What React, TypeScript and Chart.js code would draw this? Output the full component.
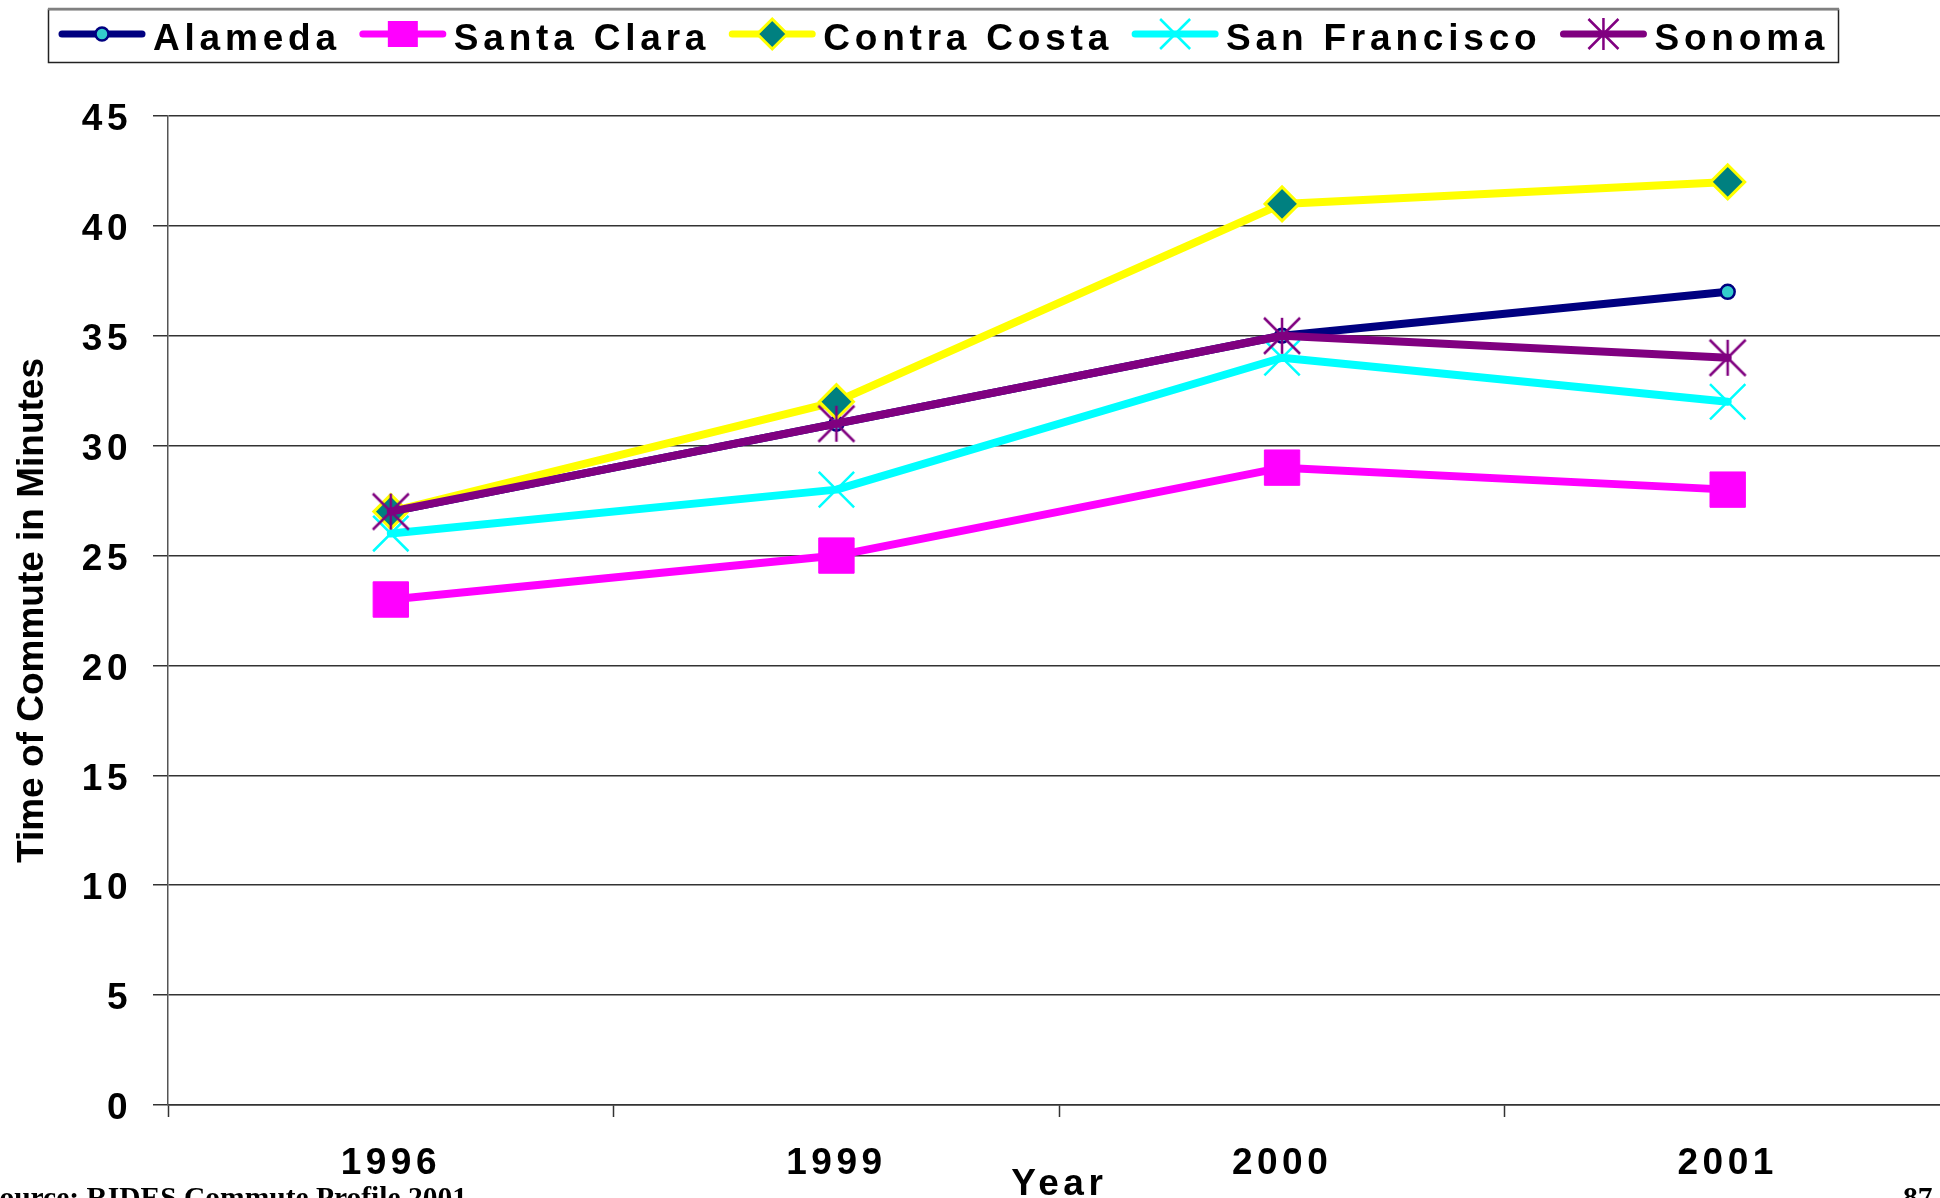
import React, { useEffect, useRef } from 'react';
import { Chart, registerables } from 'chart.js';

Chart.register(...registerables);

// ---- data ----
const years = ['1996', '1999', '2000', '2001'];
const seriesNames = ['Alameda', 'Santa Clara', 'Contra Costa', 'San Francisco', 'Sonoma'];
const alameda = [27, 31, 35, 37];
const santaClara = [23, 25, 29, 28];
const contraCosta = [27, 32, 41, 42];
const sanFrancisco = [26, 28, 34, 32];
const sonoma = [27, 31, 35, 34];
const yTickValues = [0, 5, 10, 15, 20, 25, 30, 35, 40, 45];
const xTitle = 'Year';
const yTitle = 'Time of Commute in Minutes';
const sourceText = 'Source: RIDES Commute Profile 2001';
const pageNumber = '87';

const FONT = '"Liberation Sans", Arial, Helvetica, sans-serif';
const SPACING = '4.5px';

function makeAsterisk(size: number, color: string, lw: number) {
  const c = document.createElement('canvas');
  c.width = size;
  c.height = size;
  const g = c.getContext('2d')!;
  const m = size / 2;
  const h = m - 2;
  g.strokeStyle = color;
  g.lineWidth = lw;
  g.beginPath();
  g.moveTo(m - h, m - h); g.lineTo(m + h, m + h);
  g.moveTo(m + h, m - h); g.lineTo(m - h, m + h);
  g.moveTo(m, m - h); g.lineTo(m, m + h);
  g.stroke();
  return c;
}

function drawLegendMarker(ctx: CanvasRenderingContext2D, kind: string, x: number, y: number, fill: string, stroke: string) {
  ctx.save();
  ctx.lineCap = 'butt';
  if (kind === 'circle') {
    ctx.beginPath();
    ctx.arc(x, y, 6.5, 0, Math.PI * 2);
    ctx.fillStyle = fill; ctx.fill();
    ctx.lineWidth = 2.5; ctx.strokeStyle = stroke; ctx.stroke();
  } else if (kind === 'rect') {
    ctx.fillStyle = fill;
    ctx.fillRect(x - 15, y - 13, 30, 26);
  } else if (kind === 'diamond') {
    ctx.beginPath();
    ctx.moveTo(x, y - 15); ctx.lineTo(x + 15, y); ctx.lineTo(x, y + 15); ctx.lineTo(x - 15, y); ctx.closePath();
    ctx.fillStyle = fill; ctx.fill();
    ctx.lineWidth = 3; ctx.strokeStyle = stroke; ctx.stroke();
  } else if (kind === 'x') {
    ctx.beginPath();
    ctx.moveTo(x - 15, y - 15); ctx.lineTo(x + 15, y + 15);
    ctx.moveTo(x + 15, y - 15); ctx.lineTo(x - 15, y + 15);
    ctx.lineWidth = 2.5; ctx.strokeStyle = stroke; ctx.stroke();
  } else if (kind === 'asterisk') {
    ctx.beginPath();
    ctx.moveTo(x - 15, y - 15); ctx.lineTo(x + 15, y + 15);
    ctx.moveTo(x + 15, y - 15); ctx.lineTo(x - 15, y + 15);
    ctx.moveTo(x, y - 16); ctx.lineTo(x, y + 16);
    ctx.lineWidth = 2.5; ctx.strokeStyle = stroke; ctx.stroke();
  }
  ctx.restore();
}

const spacingPlugin = {
  id: 'letterSpacing',
  beforeLayout(chart: any) { (chart.ctx as any).letterSpacing = SPACING; },
  beforeDraw(chart: any) { (chart.ctx as any).letterSpacing = SPACING; },
};

const extrasPlugin = {
  id: 'extras',
  afterDraw(chart: any) {
    const ctx: CanvasRenderingContext2D = chart.ctx;
    const area = chart.chartArea;
    // y axis title (no letter spacing)
    ctx.save();
    (ctx as any).letterSpacing = '0px';
    ctx.font = `bold 37px ${FONT}`;
    ctx.fillStyle = '#000';
    ctx.translate(43, (area.top + area.bottom) / 2);
    ctx.rotate(-Math.PI / 2);
    ctx.textAlign = 'center';
    ctx.textBaseline = 'alphabetic';
    ctx.fillText(yTitle, 0, 0);
    ctx.restore();

    // legend box
    ctx.save();
    ctx.fillStyle = '#fff';
    ctx.fillRect(48, 9, 1790, 53);
    ctx.strokeStyle = '#222';
    ctx.lineWidth = 1.5;
    ctx.strokeRect(48.5, 9.5, 1790, 53);
    ctx.strokeStyle = '#808080';
    ctx.lineWidth = 2.5;
    ctx.beginPath(); ctx.moveTo(48, 9); ctx.lineTo(1839, 9); ctx.stroke();

    (ctx as any).letterSpacing = '4.8px';
    ctx.font = `bold 37px ${FONT}`;
    let x = 59;
    const cy = 34;
    chart.data.datasets.forEach((ds: any) => {
      ctx.strokeStyle = ds.borderColor;
      ctx.lineWidth = 7;
      ctx.lineCap = 'round';
      ctx.beginPath(); ctx.moveTo(x + 3, cy); ctx.lineTo(x + 83, cy); ctx.stroke();
      drawLegendMarker(ctx, ds.legendMarker, x + 43, cy, ds.pointBackgroundColor, ds.pointBorderColor);
      ctx.fillStyle = '#000';
      ctx.textAlign = 'left';
      ctx.textBaseline = 'alphabetic';
      ctx.fillText(ds.label, x + 94, 50);
      x += 94 + ctx.measureText(ds.label).width + 19;
    });
    ctx.restore();
  },
};

export default function App() {
  const ref = useRef<HTMLCanvasElement>(null);

  useEffect(() => {
    if (!ref.current) return;
    const sonomaMarker = makeAsterisk(40, '#800080', 2.5);
    const seriesValues = [alameda, santaClara, contraCosta, sanFrancisco, sonoma];
    const styles = [
      { line: '#000080', fill: '#33CCCC', border: '#000080', style: 'circle', radius: 7, bw: 2.5, legend: 'circle' },
      { line: '#FF00FF', fill: '#FF00FF', border: '#FF00FF', style: 'rect', radius: 25, bw: 1, legend: 'rect' },
      { line: '#FFFF00', fill: '#008080', border: '#FFFF00', style: 'rectRot', radius: 17, bw: 3, legend: 'diamond' },
      { line: '#00FFFF', fill: '#00FFFF', border: '#00FFFF', style: 'crossRot', radius: 25, bw: 2.5, legend: 'x' },
      { line: '#800080', fill: '#800080', border: '#800080', style: sonomaMarker, radius: 20, bw: 2.5, legend: 'asterisk' },
    ];
    const datasets = seriesNames.map((name, i) => ({
      label: name,
      data: seriesValues[i],
      borderColor: styles[i].line,
      backgroundColor: styles[i].line,
      borderWidth: 8,
      borderCapStyle: 'round',
      borderJoinStyle: 'round',
      tension: 0,
      fill: false,
      pointStyle: styles[i].style,
      pointRadius: styles[i].radius,
      pointBackgroundColor: styles[i].fill,
      pointBorderColor: styles[i].border,
      pointBorderWidth: styles[i].bw,
      order: seriesNames.length - i,
      legendMarker: styles[i].legend,
    }));

    const chart = new Chart(ref.current, {
      type: 'line',
      data: { labels: years, datasets: datasets as any },
      options: {
        animation: false,
        responsive: false,
        devicePixelRatio: 1,
        events: [],
        layout: { padding: { top: 116, left: 0, right: 0, bottom: 0 } },
        plugins: {
          legend: { display: false },
          tooltip: { enabled: false },
          title: { display: false },
        },
        scales: {
          x: {
            type: 'category',
            offset: true,
            grid: {
              display: true,
              offset: true,
              drawOnChartArea: false,
              drawTicks: true,
              tickLength: 12,
              tickColor: '#333',
              tickWidth: 1.5,
            },
            border: { display: true, color: '#333', width: 1.5 },
            ticks: {
              color: '#000',
              font: { family: FONT, size: 37, weight: 'bold' },
              padding: 25,
              maxRotation: 0,
              minRotation: 0,
              autoSkip: false,
            },
            title: {
              display: true,
              text: xTitle,
              color: '#000',
              font: { family: FONT, size: 37, weight: 'bold', lineHeight: 1 },
              padding: { top: 0, bottom: -5 },
            },
            afterFit: (s: any) => { s.height = 93; },
          },
          y: {
            min: 0,
            max: 45,
            grid: {
              color: '#333',
              lineWidth: 1.5,
              tickLength: 15,
              tickColor: '#333',
              tickWidth: 1.5,
            },
            border: { display: true, color: '#555', width: 1.5 },
            ticks: {
              color: '#000',
              font: { family: FONT, size: 37, weight: 'bold' },
              padding: 21,
              labelOffset: 4,
              stepSize: 5,
            },
            afterBuildTicks: (s: any) => { s.ticks = yTickValues.map((v) => ({ value: v })); },
            afterFit: (s: any) => { s.width = 168; },
          },
        },
      },
      plugins: [spacingPlugin, extrasPlugin],
    } as any);

    return () => chart.destroy();
  }, []);

  return (
    <div style={{ position: 'fixed', left: 0, top: 0, width: 1940, height: 1198, overflow: 'hidden', background: '#fff' }}>
      <canvas ref={ref} width={1978} height={1198} style={{ position: 'absolute', left: 0, top: 0, width: 1978, height: 1198 }} />
      <div style={{ position: 'absolute', left: -17, top: 1183, font: 'bold 29.5px "Liberation Serif", "Times New Roman", serif', lineHeight: '29.5px', whiteSpace: 'nowrap', color: '#000' }}>{sourceText}</div>
      <div style={{ position: 'absolute', left: 1903, top: 1183, font: 'bold 29.5px "Liberation Serif", "Times New Roman", serif', lineHeight: '29.5px', whiteSpace: 'nowrap', color: '#000' }}>{pageNumber}</div>
    </div>
  );
}
